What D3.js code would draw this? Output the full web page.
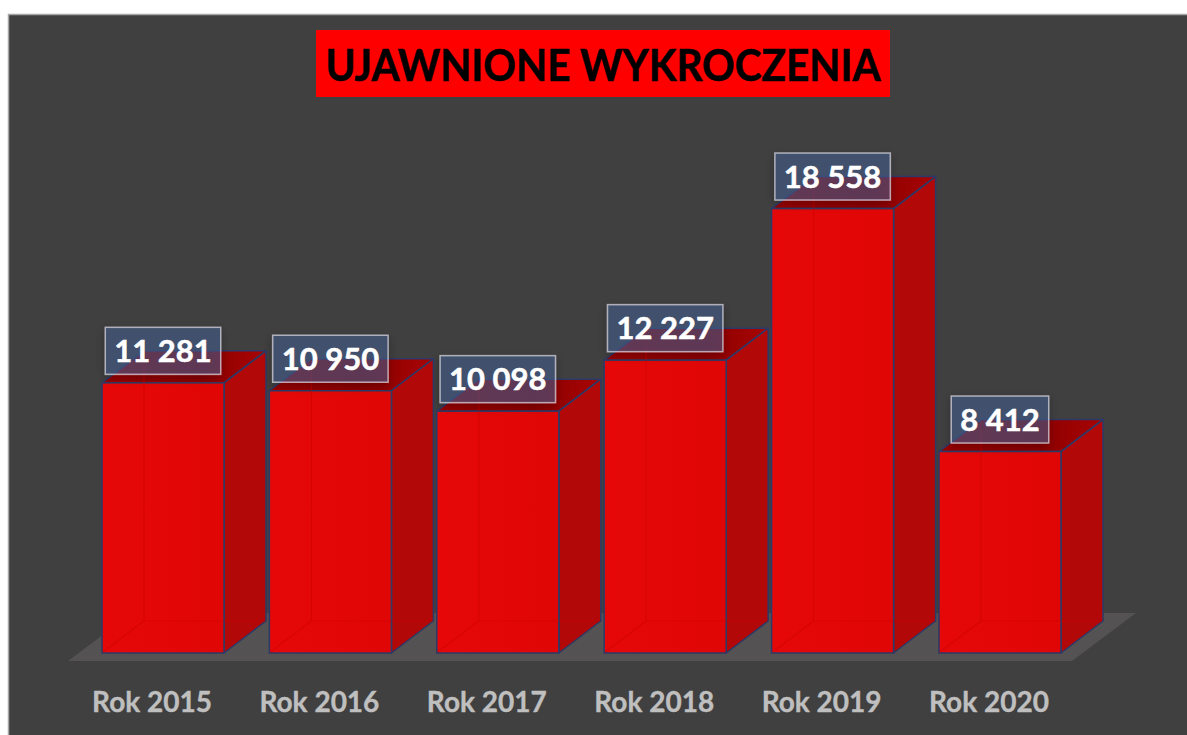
<!DOCTYPE html>
<html>
<head>
<meta charset="utf-8">
<script src="https://cdn.jsdelivr.net/npm/d3@7"></script>
<style>
  body { margin: 0; background: #ffffff; }
  svg { display: block; }
</style>
</head>
<body>
<div id="chart"></div>
<script>

// data
const categories = ["Rok 2015", "Rok 2016", "Rok 2017", "Rok 2018", "Rok 2019", "Rok 2020"];
const values = [11281, 10950, 10098, 12227, 18558, 8412];
const chartTitle = "UJAWNIONE WYKROCZENIA";

// constants
const width = 1187;
const height = 735;
const depthX = 42;   // 3d depth offset
const depthY = 32;

const fmt = d3.formatLocale({ decimal: ",", thousands: "\u00a0", grouping: [3], currency: ["", ""] }).format(",d");

const svg = d3.select("#chart")
    .append("svg")
    .attr("width", width)
    .attr("height", height);

const defs = svg.append("defs");

const topGrad = defs.append("linearGradient").attr("id", "topGrad");
topGrad.append("stop").attr("offset", "0%").attr("stop-color", "#9a0202");
topGrad.append("stop").attr("offset", "60%").attr("stop-color", "#8c0000");
topGrad.append("stop").attr("offset", "100%").attr("stop-color", "#a80404");

const frontGrad = defs.append("linearGradient").attr("id", "frontGrad");
frontGrad.append("stop").attr("offset", "0%").attr("stop-color", "#e60808");
frontGrad.append("stop").attr("offset", "100%").attr("stop-color", "#e00606");

const shadow = defs.append("filter").attr("id", "shadow")
    .attr("x", "-30%").attr("y", "-30%").attr("width", "160%").attr("height", "170%");
shadow.append("feDropShadow")
    .attr("dx", 0).attr("dy", 3).attr("stdDeviation", 4)
    .attr("flood-color", "#000").attr("flood-opacity", 0.45);

// chart background
svg.append("rect")
    .attr("x", 8.5).attr("y", 14.5)
    .attr("width", width).attr("height", height)
    .attr("fill", "#404040")
    .attr("stroke", "#a6a6a6")
    .attr("stroke-width", 1.5);

// title
svg.append("rect")
    .attr("x", 316).attr("y", 30)
    .attr("width", 574).attr("height", 67)
    .attr("fill", "#ff0000");

svg.append("text")
    .attr("x", 603).attr("y", 81)
    .attr("text-anchor", "middle")
    .attr("font-family", "Lato, 'Open Sans', sans-serif")
    .attr("font-weight", "bold")
    .attr("font-size", 44)
    .attr("textLength", 555)
    .attr("lengthAdjust", "spacingAndGlyphs")
    .attr("stroke", "#000").attr("stroke-width", 0.6)
    .attr("fill", "#000")
    .text(chartTitle);

// scales
const x = d3.scaleBand()
    .domain(categories)
    .range([102, 1061])
    .paddingInner(0.271)
    .paddingOuter(0);

const y = d3.scaleLinear()
    .domain([0, 20000])
    .range([653, 174]);

const bw = x.bandwidth();
const base = y(0);

// floor
const fx0 = x.range()[0] - 34;
const fx1 = x.range()[1] + 11;
svg.append("polygon")
    .attr("points", [
        [fx0, base + 8], [fx1, base + 8],
        [fx1 + 64, base + 8 - 48], [fx0 + 64, base + 8 - 48]
    ].map(p => p.join(",")).join(" "))
    .attr("fill", "#545252");

// bars
const bars = svg.append("g").attr("id", "bars")
    .selectAll("g")
    .data(values)
    .enter().append("g");

const edge = "#2c3a68";

bars.append("polygon")   // top
    .attr("points", (d, i) => {
        const x0 = x(categories[i]), t = y(d);
        return [[x0, t], [x0 + depthX, t - depthY], [x0 + bw + depthX, t - depthY], [x0 + bw, t]]
            .map(p => p.join(",")).join(" ");
    })
    .attr("fill", "url(#topGrad)")
    .attr("stroke", edge).attr("stroke-width", 1.5).attr("stroke-linejoin", "round");

bars.append("polygon")   // side
    .attr("points", (d, i) => {
        const x1 = x(categories[i]) + bw, t = y(d);
        return [[x1, t], [x1 + depthX, t - depthY], [x1 + depthX, base - depthY], [x1, base]]
            .map(p => p.join(",")).join(" ");
    })
    .attr("fill", "#b20808")
    .attr("stroke", edge).attr("stroke-width", 1.5).attr("stroke-linejoin", "round");

bars.append("rect")      // front
    .attr("x", (d, i) => x(categories[i]))
    .attr("y", d => y(d))
    .attr("width", bw)
    .attr("height", d => base - y(d))
    .attr("fill", "url(#frontGrad)")
    .attr("stroke", edge).attr("stroke-width", 1.5);

// hidden back edges, faintly seen through the bar
bars.append("path")
    .attr("d", (d, i) => {
        const x0 = x(categories[i]), t = y(d);
        return `M${x0 + depthX},${t - depthY + 2}V${base - depthY}H${x0 + bw + depthX - 1}` +
               `M${x0 + 1},${base - 1}L${x0 + depthX},${base - depthY}`;
    })
    .attr("fill", "none")
    .attr("stroke", "#cc0000")
    .attr("stroke-width", 1.2)
    .attr("opacity", 0.5);

// value labels
const labels = svg.append("g").attr("id", "labels")
    .selectAll("g")
    .data(values)
    .enter().append("g")
    .attr("transform", (d, i) => `translate(${x(categories[i]) + bw / 2},${y(d) - 32})`);

labels.append("rect")
    .attr("y", -23.5)
    .attr("height", 47)
    .attr("fill", "rgba(72,98,150,0.5)")
    .attr("stroke", "rgba(220,220,230,0.7)")
    .attr("stroke-width", 1.5)
    .attr("filter", "url(#shadow)");

labels.append("text")
    .attr("text-anchor", "middle")
    .attr("y", 11)
    .attr("font-family", "Lato, 'Open Sans', sans-serif")
    .attr("font-weight", "bold")
    .attr("font-size", 31)
    .attr("stroke", "#fff").attr("stroke-width", 0.5)
    .attr("fill", "#ffffff")
    .text(d => fmt(d))
    .each(function (d) {
        const w = this.getComputedTextLength() + 18;
        d3.select(this.parentNode).select("rect")
            .attr("x", -w / 2)
            .attr("width", w);
    });

// category axis
const axis = svg.append("g")
    .attr("transform", `translate(-11,${base + 59})`)
    .call(d3.axisBottom(x).tickSize(0).tickPadding(0));

axis.select(".domain").remove();
axis.selectAll("text")
    .attr("font-family", "Lato, 'Open Sans', sans-serif")
    .attr("font-weight", "bold")
    .attr("font-size", 28)
    .attr("stroke", "#bfbfbf").attr("stroke-width", 0.4)
    .attr("fill", "#bfbfbf")
    .attr("dy", 0);

</script>
</body>
</html>
